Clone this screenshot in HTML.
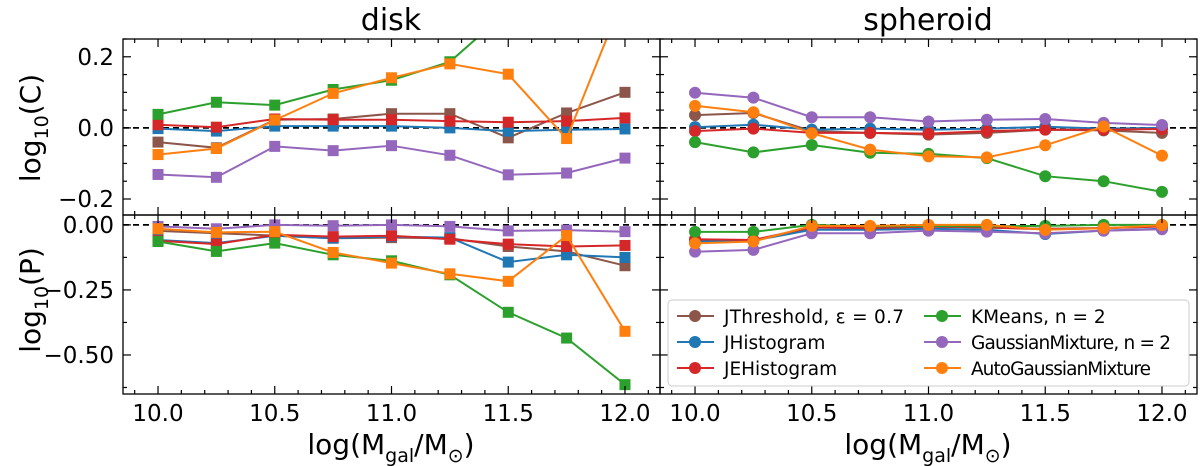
<!DOCTYPE html>
<html><head><meta charset="utf-8"><style>
html,body{margin:0;padding:0;background:#fff}
svg{display:block;font-family:"DejaVu Sans","Liberation Sans",sans-serif}
</style></head><body>
<svg id="chart" width="1200" height="466" viewBox="0 0 1200 466" xmlns="http://www.w3.org/2000/svg"></svg>
<script>
const xValues=[10.0,10.25,10.5,10.75,11.0,11.25,11.5,11.75,12.0];
const seriesNames=["JThreshold, ε = 0.7","JHistogram","JEHistogram","KMeans, n = 2","GaussianMixture, n = 2","AutoGaussianMixture"];
const seriesColors=["#8c564b","#1f77b4","#d62728","#2ca02c","#9467bd","#ff7f0e"];
// disk C
const diskC_JThreshold=[-0.040,-0.056,0.023,0.025,0.040,0.040,-0.028,0.042,0.100];
const diskC_JHistogram=[-0.002,-0.009,0.005,0.005,0.005,0.000,-0.009,-0.005,-0.003];
const diskC_JEHistogram=[0.009,0.002,0.025,0.023,0.023,0.019,0.016,0.019,0.028];
const diskC_KMeans=[0.038,0.072,0.064,0.108,0.134,0.186,0.33,0.40,0.45];
const diskC_GMM=[-0.131,-0.139,-0.052,-0.064,-0.050,-0.077,-0.132,-0.127,-0.085];
const diskC_AutoGMM=[-0.075,-0.058,0.022,0.097,0.141,0.180,0.151,-0.030,0.38];
// disk P
const diskP_JThreshold=[-0.023,-0.032,-0.041,-0.051,-0.049,-0.051,-0.083,-0.102,-0.157];
const diskP_JHistogram=[-0.058,-0.070,-0.042,-0.051,-0.045,-0.049,-0.143,-0.115,-0.125];
const diskP_JEHistogram=[-0.061,-0.074,-0.038,-0.045,-0.042,-0.055,-0.074,-0.083,-0.079];
const diskP_KMeans=[-0.064,-0.102,-0.070,-0.115,-0.138,-0.192,-0.336,-0.435,-0.614];
const diskP_GMM=[-0.006,-0.015,0.000,-0.003,0.000,-0.006,-0.023,-0.020,-0.026];
const diskP_AutoGMM=[-0.015,-0.029,-0.026,-0.106,-0.147,-0.188,-0.217,-0.041,-0.409];
// spheroid C
const sphC_JThreshold=[0.036,0.042,-0.009,-0.014,-0.019,-0.014,-0.005,-0.007,-0.014];
const sphC_JHistogram=[0.002,0.009,-0.005,-0.002,-0.005,-0.002,0.003,-0.002,0.000];
const sphC_JEHistogram=[-0.009,-0.002,-0.014,-0.014,-0.016,-0.009,-0.005,-0.005,-0.003];
const sphC_KMeans=[-0.040,-0.069,-0.048,-0.070,-0.073,-0.085,-0.136,-0.150,-0.180];
const sphC_GMM=[0.099,0.085,0.030,0.030,0.018,0.023,0.025,0.014,0.008];
const sphC_AutoGMM=[0.062,0.044,-0.015,-0.061,-0.080,-0.083,-0.049,0.004,-0.078];
// spheroid P
const sphP_JThreshold=[-0.058,-0.060,-0.010,-0.013,-0.007,-0.010,-0.015,-0.012,-0.006];
const sphP_JHistogram=[-0.064,-0.060,-0.019,-0.019,-0.015,-0.019,-0.035,-0.022,-0.015];
const sphP_JEHistogram=[-0.055,-0.058,-0.009,-0.013,-0.006,-0.010,-0.017,-0.013,-0.006];
const sphP_KMeans=[-0.027,-0.027,0.000,-0.006,-0.004,-0.006,-0.004,0.000,0.000];
const sphP_GMM=[-0.103,-0.096,-0.032,-0.032,-0.022,-0.026,-0.032,-0.022,-0.017];
const sphP_AutoGMM=[-0.071,-0.064,-0.004,-0.004,0.000,0.000,-0.019,-0.013,-0.001];
const xTickLabels=["10.0","10.5","11.0","11.5","12.0"];
const cTickLabels=["0.2","0.0","−0.2"];
const pTickLabels=["0.00","−0.25","−0.50"];

const NS="http://www.w3.org/2000/svg";
const svg=document.getElementById('chart');
function mk(tag,attrs,parent){const e=document.createElementNS(NS,tag);for(const k in attrs)e.setAttribute(k,attrs[k]);(parent||svg).appendChild(e);return e;}

const cols=[{x0:123,x1:660},{x0:660,x1:1197}];
const rows=[{y0:39,y1:215,lo:-0.245,hi:0.25},{y0:215,y1:394,lo:-0.65,hi:0.038}];
const XLO=9.85,XHI=12.15;
function xs(c,v){const p=cols[c];return p.x0+(v-XLO)/(XHI-XLO)*(p.x1-p.x0);}
function ys(r,v){const p=rows[r];return p.y1-(v-p.lo)/(p.hi-p.lo)*(p.y1-p.y0);}

const panels=[
 {c:0,r:0,name:'disk-c',data:[diskC_JThreshold,diskC_JHistogram,diskC_JEHistogram,diskC_KMeans,diskC_GMM,diskC_AutoGMM],sq:true},
 {c:0,r:1,name:'disk-p',data:[diskP_JThreshold,diskP_JHistogram,diskP_JEHistogram,diskP_KMeans,diskP_GMM,diskP_AutoGMM],sq:true},
 {c:1,r:0,name:'spheroid-c',data:[sphC_JThreshold,sphC_JHistogram,sphC_JEHistogram,sphC_KMeans,sphC_GMM,sphC_AutoGMM],sq:false},
 {c:1,r:1,name:'spheroid-p',data:[sphP_JThreshold,sphP_JHistogram,sphP_JEHistogram,sphP_KMeans,sphP_GMM,sphP_AutoGMM],sq:false}
];
const order=[0,1,2,3,4,5];
panels.forEach((P,pi)=>{
  const g=mk('g',{});
  
  
  const X0=cols[P.c].x0,X1=cols[P.c].x1,Y0=rows[P.r].y0,Y1=rows[P.r].y1;
  const cid='clip'+pi;
  const cp=mk('clipPath',{id:cid},g);mk('rect',{x:X0,y:Y0,width:X1-X0,height:Y1-Y0},cp);
  const zl=mk('line',{x1:X0,x2:X1,y1:ys(P.r,0),y2:ys(P.r,0),stroke:'#000','stroke-width':1.8,'stroke-dasharray':'6,4'},g);
  
  
  const dg=mk('g',{'clip-path':'url(#'+cid+')'},g);
  order.forEach(si=>{
    const vals=P.data[si];
    const pts=vals.map((v,i)=>xs(P.c,xValues[i]).toFixed(1)+','+ys(P.r,v).toFixed(1)).join(' ');
    const pl=mk('polyline',{points:pts,fill:'none',stroke:seriesColors[si],'stroke-width':2},dg);
    
    
    vals.forEach((v,i)=>{
      const cx=xs(P.c,xValues[i]),cy=ys(P.r,v);let m;
      if(P.sq)m=mk('rect',{x:cx-5.5,y:cy-5.5,width:11,height:11,fill:seriesColors[si]},dg);
      else m=mk('circle',{cx:cx,cy:cy,r:6,fill:seriesColors[si]},dg);
      
      
    });
  });
  for(let v=9.9;v<=12.11;v+=0.1){
    const x=xs(P.c,v);const major=Math.abs(v*2-Math.round(v*2))<0.01;const L=major?8:4;
    mk('line',{x1:x,x2:x,y1:Y0,y2:Y0+L,stroke:'#000','stroke-width':1.2},g);
    mk('line',{x1:x,x2:x,y1:Y1,y2:Y1-L,stroke:'#000','stroke-width':1.2},g);
  }
  const yt=P.r===0?{maj:[0.2,0,-0.2],min:0.05,lo:-0.2,hi:0.25}:{maj:[0,-0.25,-0.5],min:0.125,lo:-0.625,hi:0.01};
  for(let v=yt.lo;v<=yt.hi+1e-6;v+=yt.min){
    const y=ys(P.r,v);const major=yt.maj.some(m=>Math.abs(m-v)<1e-6);const L=major?8:4;
    mk('line',{x1:X0,x2:X0+L,y1:y,y2:y,stroke:'#000','stroke-width':1.2},g);
    mk('line',{x1:X1,x2:X1-L,y1:y,y2:y,stroke:'#000','stroke-width':1.2},g);
  }
  mk('rect',{x:X0,y:Y0,width:X1-X0,height:Y1-Y0,fill:'none',stroke:'#000','stroke-width':1.3},g);
  if(P.c===0){
    const labs=P.r===0?cTickLabels:pTickLabels;
    labs.forEach((t,i)=>{const tt=mk('text',{x:X0-9,y:ys(P.r,yt.maj[i])+8,'text-anchor':'end','font-size':23},g);tt.textContent=t;
      });
  }
  if(P.r===1){
    xTickLabels.forEach(t=>{const tt=mk('text',{x:xs(P.c,parseFloat(t)),y:421,'text-anchor':'middle','font-size':23},g);tt.textContent=t;
      });
  }
});
function txt(s,a,name){const t=mk('text',a);t.innerHTML=s;return t;}
txt('disk',{x:391,y:30,'text-anchor':'middle','font-size':30},'disk-title');
txt('spheroid',{x:928,y:30,'text-anchor':'middle','font-size':30},'spheroid-title');
txt('log<tspan font-size="19" dy="8">10</tspan><tspan dy="-8">(C)</tspan>',{transform:'translate(40,128) rotate(-90)','text-anchor':'middle','font-size':28},'y-axis-title-c');
txt('log<tspan font-size="19" dy="8">10</tspan><tspan dy="-8">(P)</tspan>',{transform:'translate(40,300) rotate(-90)','text-anchor':'middle','font-size':28},'y-axis-title-p');
['391','928'].forEach((cx,i)=>txt('log(M<tspan font-size="19" dy="8">gal</tspan><tspan dy="-8">/M</tspan><tspan font-size="19" dy="8">⊙</tspan><tspan dy="-8">)</tspan>',{x:cx,y:454,'text-anchor':'middle','font-size':28},'x-axis-title-'+i));
const lg=mk('g',{});


mk('rect',{x:668,y:300,width:521,height:86,rx:4,fill:'#fff',stroke:'#ccc','stroke-width':1},lg);
seriesNames.forEach((n,i)=>{
  const col=Math.floor(i/3),row=i%3;const lx=677+col*247,ly=316+row*26;
  const e=mk('g',{},lg);
  
  
  mk('line',{x1:lx,x2:lx+37,y1:ly,y2:ly,stroke:seriesColors[i],'stroke-width':2},e);
  mk('circle',{cx:lx+18,cy:ly,r:6,fill:seriesColors[i]},e);
  const t=mk('text',{x:lx+47,y:ly+7,'font-size':18.5,textLength:(n.length>15?(i===4?200:180):null)},e);
  if(!t.getAttribute('textLength')||t.getAttribute('textLength')==='null')t.removeAttribute('textLength');
  t.textContent=n;
});
</script>
</body></html>
